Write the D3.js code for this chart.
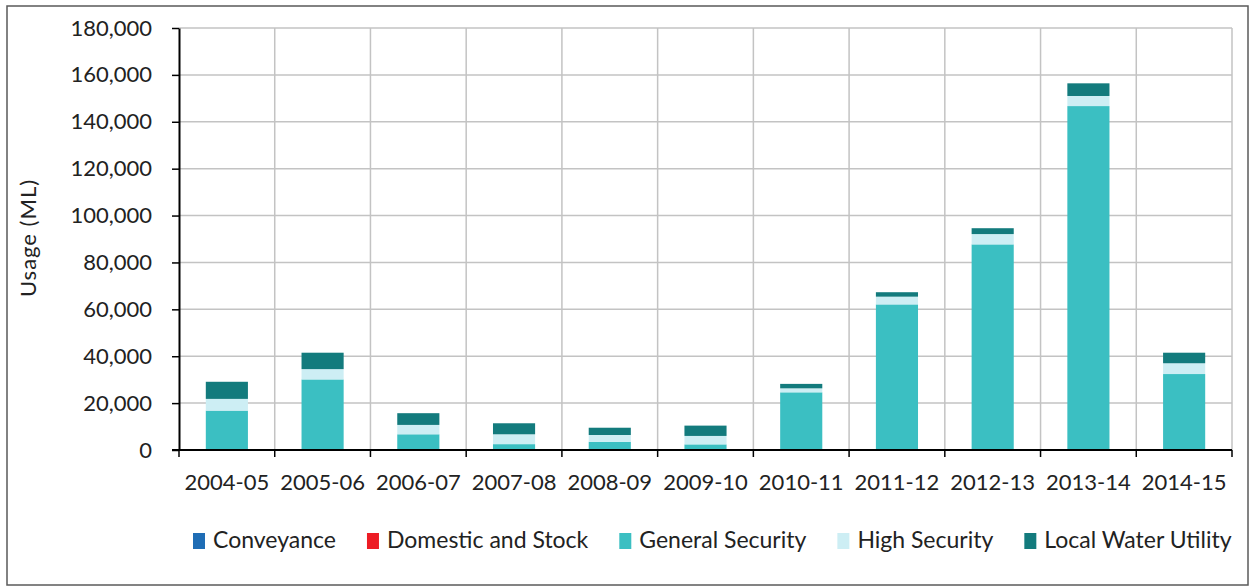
<!DOCTYPE html>
<html>
<head>
<meta charset="utf-8">
<script src="https://cdn.jsdelivr.net/npm/d3@7"></script>
<style>
  body { margin: 0; background: #fff; }
  svg { display: block; font-family: Lato, "Open Sans", sans-serif; }
</style>
</head>
<body>
<div class="chart"></div>
<script>
// Water usage by category (ML)
const years = ["2004-05", "2005-06", "2006-07", "2007-08", "2008-09", "2009-10",
               "2010-11", "2011-12", "2012-13", "2013-14", "2014-15"];
const seriesNames = ["Conveyance", "Domestic and Stock", "General Security", "High Security", "Local Water Utility"];
const conveyance = [0, 0, 0, 0, 0, 0, 0, 0, 0, 0, 0];
const domesticStock = [0, 0, 0, 0, 0, 0, 0, 0, 0, 0, 0];
const generalSecurity = [16800, 30100, 6700, 2500, 3500, 2400, 24600, 62100, 87700, 146700, 32400];
const highSecurity = [5000, 4400, 4000, 4200, 2900, 3600, 1700, 3300, 4400, 4300, 4600];
const localWaterUtility = [7300, 7000, 5000, 4700, 3100, 4400, 1900, 1900, 2500, 5400, 4500];
const yTicks = [0, 20000, 40000, 60000, 80000, 100000, 120000, 140000, 160000, 180000];

const colors = ["#1f6db5", "#ed1c24", "#3bbfc2", "#cdeef4", "#137b7d"];

const width = 1251;
const height = 588;
const plotLeft = 179, plotRight = 1232, plotTop = 28, plotBottom = 450;

const svg = d3.select(".chart")
  .append("svg")
  .attr("width", width)
  .attr("height", height);

// outer frame
svg.append("rect")
  .attr("x", 7).attr("y", 6)
  .attr("width", 1241).attr("height", 579)
  .attr("fill", "#fff")
  .attr("stroke", "#5a5a5a")
  .attr("stroke-width", 1.5);

const xScale = d3.scaleBand()
  .domain(years)
  .range([plotLeft, plotRight])
  .padding(0);

const yScale = d3.scaleLinear()
  .domain([0, 180000])
  .range([plotBottom, plotTop]);

// horizontal gridlines
svg.append("g")
  .selectAll("line")
  .data(yTicks.slice(1))
  .enter()
  .append("line")
  .attr("x1", plotLeft).attr("x2", plotRight)
  .attr("y1", d => yScale(d)).attr("y2", d => yScale(d))
  .attr("stroke", "#c3c3c3")
  .attr("stroke-width", 1.5);

// vertical gridlines at category edges
const edges = years.map(d => xScale(d)).concat([plotRight]);
svg.append("g")
  .selectAll("line")
  .data(edges.slice(1))
  .enter()
  .append("line")
  .attr("x1", d => d).attr("x2", d => d)
  .attr("y1", plotTop).attr("y2", plotBottom)
  .attr("stroke", "#c3c3c3")
  .attr("stroke-width", 1.5);

// stacked bars
const rows = years.map((y, i) => ({
  year: y,
  "Conveyance": conveyance[i],
  "Domestic and Stock": domesticStock[i],
  "General Security": generalSecurity[i],
  "High Security": highSecurity[i],
  "Local Water Utility": localWaterUtility[i]
}));
const stacked = d3.stack().keys(seriesNames)(rows);
const barWidth = xScale.bandwidth() * 0.44;

svg.append("g")
  .selectAll("g")
  .data(stacked)
  .enter()
  .append("g")
  .attr("fill", (d, i) => colors[i])
  .selectAll("rect")
  .data(d => d)
  .enter()
  .append("rect")
  .attr("x", d => xScale(d.data.year) + (xScale.bandwidth() - barWidth) / 2)
  .attr("y", d => yScale(d[1]))
  .attr("width", barWidth)
  .attr("height", d => yScale(d[0]) - yScale(d[1]));

// y axis
const yAxis = d3.axisLeft(yScale)
  .tickValues(yTicks)
  .tickFormat(d3.format(","))
  .tickSize(7)
  .tickSizeOuter(0)
  .tickPadding(20);
const gy = svg.append("g")
  .attr("transform", "translate(" + plotLeft + ",0)")
  .call(yAxis);
gy.select(".domain").attr("stroke", "#000").attr("stroke-width", 2);
gy.selectAll(".tick line").attr("stroke", "#000").attr("stroke-width", 1.5);
gy.selectAll("text")
  .attr("font-size", 22)
  .attr("font-family", "Lato, sans-serif")
  .attr("fill", "#222");

// x axis line and edge ticks
svg.append("line")
  .attr("x1", plotLeft - 7).attr("x2", plotRight)
  .attr("y1", plotBottom).attr("y2", plotBottom)
  .attr("stroke", "#000")
  .attr("stroke-width", 2);
svg.append("g")
  .selectAll("line")
  .data(edges)
  .enter()
  .append("line")
  .attr("x1", d => d).attr("x2", d => d)
  .attr("y1", plotBottom).attr("y2", plotBottom + 7)
  .attr("stroke", "#000")
  .attr("stroke-width", 1.5);

// x labels
svg.append("g")
  .selectAll("text")
  .data(years)
  .enter()
  .append("text")
  .attr("x", d => xScale(d) + xScale.bandwidth() / 2)
  .attr("y", 490)
  .attr("text-anchor", "middle")
  .attr("font-size", 22)
  .attr("fill", "#222")
  .text(d => d);

// y title
svg.append("text")
  .attr("transform", "translate(36,238) rotate(-90)")
  .attr("text-anchor", "middle")
  .attr("font-size", 22)
  .attr("letter-spacing", 1)
  .attr("fill", "#222")
  .text("Usage (ML)");

// legend
const legend = svg.append("g");
let lx = 193;
seriesNames.forEach((name, i) => {
  legend.append("rect")
    .attr("x", lx).attr("y", 533)
    .attr("width", 12).attr("height", 16)
    .attr("fill", colors[i]);
  const t = legend.append("text")
    .attr("x", lx + 20)
    .attr("y", 548)
    .attr("font-size", 23)
    .attr("fill", "#222")
    .text(name);
  lx += 20 + t.node().getComputedTextLength() + 31;
});
</script>
</body>
</html>
